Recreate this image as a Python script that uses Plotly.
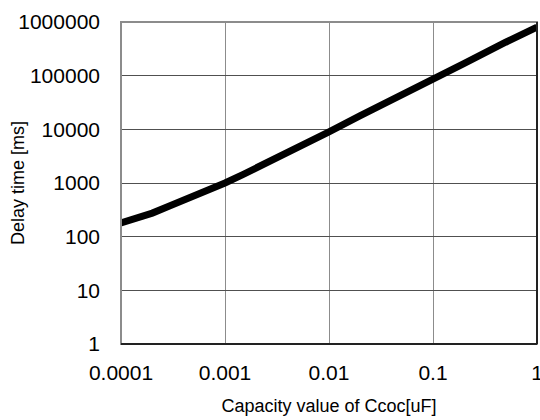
import plotly.graph_objects as go

capacity_uF = [0.0001, 0.00015, 0.0002, 0.0003, 0.0004, 0.00045, 0.0005, 0.0007, 0.001,
               0.0015, 0.002, 0.003, 0.005, 0.007, 0.01, 0.02, 0.05, 0.1, 0.2, 0.5, 1]
delay_ms = [180, 230, 275, 380, 470, 540, 590, 720, 1000,
            1450, 1900, 2800, 4500, 6400, 9000, 18000, 43000, 85000, 170000, 420000, 800000]

x_tickvals = [0.0001, 0.001, 0.01, 0.1, 1]
x_ticktext = ["0.0001", "0.001", "0.01", "0.1", "1"]
y_tickvals = [1, 10, 100, 1000, 10000, 100000, 1000000]
y_ticktext = ["1", "10", "100", "1000", "10000", "100000", "1000000"]

font_family = "Liberation Sans, Arial, sans-serif"

fig = go.Figure()
fig.add_trace(go.Scatter(x=capacity_uF, y=delay_ms, mode="lines",
                         line=dict(color="black", width=7), showlegend=False,
                         cliponaxis=True))

fig.update_layout(
    width=540, height=420,
    margin=dict(l=121, r=3, t=22, b=76, autoexpand=False),
    paper_bgcolor="white", plot_bgcolor="white",
    font=dict(family=font_family, color="black"),
    xaxis=dict(type="log", range=[-4, 0], tickvals=x_tickvals, ticktext=x_ticktext,
               showgrid=True, gridcolor="#8c8c8c", gridwidth=1.3, zeroline=False,
               automargin=False, ticklabeloverflow="allow",
               tickfont=dict(size=21), ticks="", ticklabelstandoff=14,
               title=dict(text="Capacity value of Ccoc[uF]", font=dict(size=18), standoff=16)),
    yaxis=dict(type="log", range=[0, 6], tickvals=y_tickvals, ticktext=y_ticktext,
               showgrid=True, gridcolor="#505050", gridwidth=1, zeroline=False,
               automargin=False, ticklabeloverflow="allow",
               tickfont=dict(size=21), ticks="", ticklabelstandoff=20),
    annotations=[
        dict(text="Delay time [ms]", xref="paper", yref="paper",
             x=(18 - 121) / 416, y=0.5, xanchor="center", yanchor="middle",
             textangle=-90, showarrow=False, font=dict(size=18)),
    ],
    shapes=[
        dict(type="rect", xref="paper", yref="paper", x0=0, x1=1, y0=0, y1=1,
             line=dict(color="#8c8c8c", width=2), layer="above"),
        dict(type="line", xref="paper", yref="paper", x0=0, x1=1, y0=0, y1=0,
             line=dict(color="#222222", width=2), layer="above"),
        dict(type="line", xref="paper", yref="paper", x0=1, x1=1, y0=0, y1=1,
             line=dict(color="#222222", width=2), layer="above"),
    ],
)

fig.write_html("out.html", config={"displayModeBar": False},
               post_script="document.body.style.margin='0';")
